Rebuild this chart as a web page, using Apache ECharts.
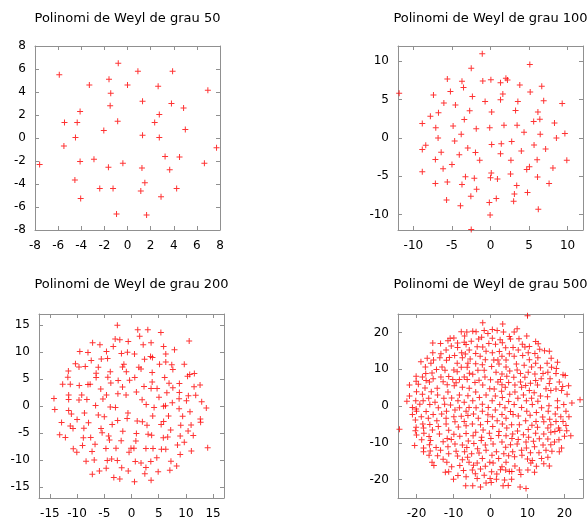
<!DOCTYPE html>
<html>
<head>
<meta charset="utf-8">
<script src="https://cdn.jsdelivr.net/npm/echarts@6/dist/echarts.min.js"></script>
<style>
html,body{margin:0;padding:0;background:#fff;}
#chart{width:588px;height:520px;}
</style>
</head>
<body>
<div id="chart"></div>
<script>
// arrels llegides del gràfic: [part real, part imaginària]
var roots50 = [[-0.8,6.5],[-5.9,5.5],[0.9,5.8],[3.9,5.8],[-1.6,5.1],[-3.3,4.6],[0.0,4.6],[2.65,4.5],[6.95,4.15],[-1.45,3.9],[1.3,3.2],[3.8,3.0],[-1.5,2.8],[4.85,2.6],[-4.1,2.3],[2.75,2.05],[-5.45,1.35],[-4.35,1.35],[-0.85,1.45],[2.35,1.35],[-2.05,0.65],[5.0,0.75],[-4.5,0.05],[1.3,0.25],[2.75,0.05],[-5.5,-0.7],[7.7,-0.85],[-7.6,-2.3],[-4.1,-2.05],[-2.9,-1.85],[-0.4,-2.2],[-1.65,-2.55],[1.25,-2.6],[3.25,-1.6],[4.5,-1.65],[6.65,-2.2],[3.65,-2.75],[-4.55,-3.65],[1.5,-3.9],[-2.4,-4.4],[-1.25,-4.4],[1.15,-4.6],[4.25,-4.4],[-4.05,-5.25],[2.9,-5.1],[-0.95,-6.6],[1.65,-6.7]];

var roots100 = [[-1.07,11.0],[5.1,9.6],[-2.5,9.1],[2.0,7.8],[2.2,7.55],[-5.6,7.7],[-3.7,7.4],[-1.0,7.45],[0.05,7.6],[1.3,7.2],[3.8,6.9],[6.65,6.75],[-3.5,6.6],[-5.2,6.05],[5.15,6.0],[-11.85,5.85],[-7.4,5.6],[1.6,5.75],[-2.35,5.4],[1.3,5.0],[6.9,4.85],[-0.7,4.75],[3.55,4.75],[-6.05,4.55],[-4.55,4.3],[9.3,4.5],[3.25,3.6],[-2.7,3.55],[0.15,3.4],[6.15,3.4],[-6.75,3.3],[-7.8,2.85],[-3.4,2.4],[6.4,2.45],[5.6,2.15],[-8.85,1.9],[8.3,1.95],[1.75,1.65],[3.45,1.65],[-4.85,1.55],[-7.1,1.35],[-1.85,1.2],[-0.1,1.35],[4.35,0.75],[-3.8,0.5],[6.45,0.5],[9.65,0.6],[-6.8,0.0],[8.55,0.0],[-4.65,-0.4],[2.75,-0.45],[0.15,-0.85],[1.4,-0.75],[5.65,-0.9],[-8.4,-0.95],[-8.85,-1.5],[-2.95,-1.3],[7.15,-1.45],[4.0,-1.7],[-6.4,-1.85],[-1.95,-1.9],[-4.05,-2.2],[1.3,-2.05],[-7.15,-2.8],[-1.4,-2.9],[2.65,-2.9],[6.05,-2.85],[9.9,-2.9],[-5.0,-3.45],[-6.15,-4.0],[8.1,-3.9],[5.05,-3.75],[4.7,-4.1],[-8.85,-4.4],[0.1,-4.55],[2.6,-4.7],[-3.25,-5.05],[-2.1,-5.25],[0.0,-5.2],[0.9,-5.35],[6.1,-5.1],[-5.6,-5.75],[-7.15,-5.95],[-3.7,-6.05],[3.4,-6.2],[7.6,-5.95],[-1.8,-6.7],[4.8,-7.1],[3.1,-7.3],[-2.55,-7.6],[0.75,-7.9],[-5.7,-8.1],[3.0,-8.25],[-0.15,-8.4],[-3.9,-8.85],[6.2,-9.3],[-0.05,-10.05],[-2.5,-11.95]];

var roots200 = [[-2.6,14.9],[1.15,14.1],[3.0,14.1],[5.4,13.6],[-3.0,12.4],[-2.15,12.25],[1.5,12.9],[10.6,12.0],[-7.15,11.7],[-5.8,11.3],[-0.6,11.9],[2.15,11.3],[3.6,11.7],[5.9,11.0],[-3.35,11.0],[-9.5,10.05],[-8.0,9.9],[-4.6,10.05],[-1.85,9.7],[-0.75,9.95],[0.55,9.6],[7.9,10.4],[3.5,9.15],[3.85,8.95],[6.3,9.6],[-7.4,8.4],[-5.55,8.7],[-4.4,8.8],[2.4,8.65],[-10.3,7.8],[-9.65,7.2],[-8.5,7.3],[-6.1,7.15],[-1.4,7.7],[-1.65,7.2],[1.35,7.15],[1.75,6.85],[5.15,7.7],[6.3,8.15],[7.4,7.6],[7.6,6.75],[9.7,7.7],[-11.6,6.45],[-6.5,6.05],[-3.9,6.35],[-0.95,6.35],[3.8,6.2],[-6.5,5.25],[-4.35,5.3],[0.6,5.25],[6.1,5.25],[10.3,5.5],[10.7,5.8],[11.55,6.0],[-11.7,5.3],[-2.45,4.7],[-0.35,4.75],[3.8,4.45],[-12.65,4.0],[-11.25,4.0],[-9.6,3.8],[-8.0,3.95],[-7.6,4.0],[-3.8,4.25],[6.9,4.2],[8.8,4.15],[12.6,3.9],[-5.65,3.15],[-1.65,3.5],[2.3,3.6],[3.6,3.25],[4.7,3.25],[7.6,3.35],[11.5,3.55],[-11.55,2.05],[-9.15,2.05],[-4.6,2.05],[-2.5,2.25],[-1.0,2.05],[0.9,2.6],[6.5,2.45],[10.45,1.9],[11.8,2.0],[8.8,2.5],[-14.25,1.4],[-11.55,1.2],[-9.65,1.1],[-8.2,1.2],[-5.25,1.3],[5.05,1.6],[8.75,1.35],[10.1,0.95],[1.95,1.15],[-6.6,0.1],[2.7,0.3],[6.25,0.05],[7.5,0.6],[12.9,0.8],[-3.9,-0.2],[-2.95,-0.3],[4.15,-0.3],[5.9,-0.05],[13.75,-0.35],[-14.1,-0.65],[-11.55,-0.85],[8.75,-0.5],[10.75,-1.05],[-0.65,-1.3],[-6.1,-1.65],[-5.0,-2.0],[-8.65,-1.3],[-11.05,-1.5],[-0.8,-2.3],[3.9,-1.85],[6.8,-1.85],[9.4,-1.9],[-12.85,-3.05],[-11.25,-3.7],[-10.75,-4.15],[-10.0,-2.5],[-7.9,-3.1],[-2.55,-2.7],[1.05,-2.75],[2.0,-2.9],[2.85,-3.55],[-3.55,-3.4],[5.45,-3.4],[5.9,-2.85],[9.05,-3.55],[10.95,-3.5],[12.7,-3.0],[12.65,-2.4],[-5.6,-4.15],[-8.75,-4.1],[-5.4,-4.95],[-1.6,-4.65],[-13.2,-5.3],[-12.15,-5.8],[-8.85,-5.85],[-7.5,-5.8],[-4.2,-5.55],[-4.05,-6.3],[0.9,-5.1],[3.05,-5.2],[3.7,-5.4],[5.85,-5.85],[6.65,-5.75],[7.2,-4.45],[8.95,-5.55],[10.4,-4.6],[11.35,-5.45],[-1.9,-6.4],[0.8,-6.45],[9.7,-6.7],[-6.7,-7.05],[-9.0,-7.3],[-10.7,-7.9],[-10.05,-8.55],[-7.25,-8.4],[-4.7,-7.85],[-2.85,-7.8],[-0.1,-7.8],[0.45,-7.8],[-0.45,-8.55],[2.65,-7.85],[3.95,-7.85],[5.5,-8.0],[6.3,-8.0],[8.45,-7.2],[11.0,-8.3],[14.0,-7.7],[8.95,-8.95],[-8.35,-10.2],[-6.85,-10.0],[-4.45,-10.05],[-3.65,-9.8],[-2.6,-10.05],[0.7,-10.25],[1.75,-10.55],[3.55,-10.25],[4.65,-9.55],[7.25,-10.2],[8.3,-11.1],[2.65,-11.35],[-1.8,-11.4],[-4.65,-11.5],[-5.9,-12.0],[-0.6,-12.0],[4.9,-12.15],[7.05,-11.85],[-7.2,-12.6],[2.45,-12.5],[-3.25,-13.2],[-2.15,-13.5],[3.6,-13.7],[0.55,-14.0]];

var roots500 = [[10.0,24.5],[-2.1,22.6],[3.3,22.3],[7.2,21.0],[0.5,20.8],[-1.7,20.5],[1.8,20.5],[-7.9,20.2],[-6.4,20.1],[-4.8,20.3],[-3.9,20.2],[3.5,20.1],[6.4,20.1],[-0.7,19.7],
[-7.0,19.0],[9.8,19.0],[5.1,18.9],[-10.9,18.4],[-9.9,18.5],[-2.4,18.7],[-3.2,18.2],[0.5,18.4],[7.7,18.3],[2.6,18.0],[5.4,18.2],
[-11.5,17.7],[-5.2,17.6],[-15.6,17.1],[-13.5,17.0],[12.2,17.5],[-8.9,17.1],[-7.1,17.3],[-6.6,16.7],[-0.45,17.0],[3.2,17.2],[1.35,16.8],[8.6,16.8],[12.9,16.9],[9.3,16.0],[10.5,16.2],
[-10.6,16.3],[-8.9,15.9],[-3.6,16.1],[-2.1,16.0],[4.1,15.8],[6.1,15.9],[13.3,15.4],[-12.0,15.2],[-5.75,15.2],[-1.2,14.9],[2.4,14.8],[7.5,15.2],[14.6,15.0],[15.9,14.9],
[-15.6,14.5],[-13.4,14.2],[-7.8,14.5],[-6.8,14.1],[-4.0,14.3],[0.5,14.5],[5.1,14.2],[10.2,14.5],[12.0,14.3],[-9.7,13.7],[-2.8,13.5],[3.1,13.5],[6.4,13.5],[8.7,13.7],
[-17.1,13.0],[-13.7,13.1],[-11.1,13.2],[-7.6,13.1],[-5.5,12.8],[-1.4,12.6],[0.9,12.5],[2.0,12.5],[4.2,12.5],[10.5,12.6],[12.8,13.1],[16.4,13.0],[-15.4,12.5],[-18.8,12.0],[-11.9,12.4],[18.1,11.9],
[-16.1,11.6],[-9.0,11.6],[-6.1,11.6],[-4.0,11.5],[-2.2,11.2],[2.3,11.4],[7.0,11.4],[9.1,11.1],[12.2,11.6],[15.3,11.6],[-17.6,10.6],[-13.1,10.6],[-7.9,10.5],[-6.3,10.5],[0.3,10.7],[4.2,10.6],[11.1,10.6],[13.5,10.4],[16.5,10.5],[17.8,10.2],
[-14.6,9.9],[-12.3,9.7],[-9.9,9.8],[-3.4,9.7],[-1.7,9.7],[1.5,9.2],[5.2,9.5],[7.2,9.8],[10.2,9.2],[15.5,9.2],[-9.0,9.3],[-17.5,8.8],[-15.8,9.0],[-5.7,8.9],[-4.8,8.6],[3.1,8.7],[8.1,8.8],[12.0,8.7],[14.2,8.8],[17.7,8.8],[19.6,8.5],
[-20.1,8.1],[-18.4,7.9],[-13.4,7.9],[-11.3,8.0],[-7.1,7.9],[-1.5,7.9],[4.4,8.1],[6.3,7.8],[9.3,7.8],[20.2,8.3],[-15.5,7.4],[-10.2,7.2],[-8.4,7.2],[-6.3,7.2],[-3.1,7.0],[0.0,7.1],[2.7,7.2],[13.7,7.4],[16.1,7.4],[12.2,6.9],[-17.4,6.9],
[-20.1,6.7],[-16.5,6.5],[-12.8,6.6],[-9.3,6.3],[-4.2,6.4],[2.0,6.5],[4.9,6.4],[8.1,6.5],[10.8,6.2],[18.6,6.5],[-21.9,5.7],[-19.5,5.9],[-11.7,5.8],[-9.8,5.5],[-2.1,5.7],[3.1,5.8],[6.6,5.7],[9.5,5.6],[12.7,5.7],[15.9,6.1],[21.1,5.5],[19.5,5.3],
[-17.7,4.9],[-14.4,4.8],[-7.6,5.1],[-5.75,4.8],[-0.2,4.7],[1.0,4.6],[4.0,5.1],[8.4,5.1],[15.0,4.7],[17.7,4.6],[-20.0,3.9],[-16.0,3.9],[-11.5,3.8],[-4.0,3.8],[3.0,4.0],[6.6,3.8],[10.5,4.2],[11.8,3.6],[16.3,4.2],[19.2,4.2],
[-21.9,2.7],[-18.4,3.2],[-14.3,3.0],[-8.4,3.0],[-6.1,2.8],[-1.2,3.0],[1.3,2.7],[5.2,3.2],[8.9,3.0],[13.5,2.7],[15.4,2.5],[20.7,3.2],[-16.7,2.1],[-12.6,2.1],[-10.5,2.2],[-3.0,2.3],[3.2,2.3],[7.4,2.1],[11.1,2.1],
[-22.6,1.3],[-20.2,1.4],[-18.2,1.4],[-15.0,1.0],[-8.8,1.4],[-7.1,1.0],[-4.8,1.4],[0.45,1.4],[4.9,1.2],[9.7,1.4],[12.8,1.3],[18.1,1.4],[24.2,1.7],[22.0,0.8],
[-19.1,0.5],[-16.4,0.4],[-12.4,0.5],[-10.8,0.3],[-2.2,0.5],[2.5,0.4],[6.4,0.4],[11.3,0.4],[15.8,0.1],[19.8,0.4],[-21.1,-0.4],[-14.1,-0.5],[-8.4,-0.5],[-5.8,-0.4],[-3.9,-0.5],[-0.6,-0.4],[3.9,-0.5],[8.4,-0.4],[13.8,-0.5],[18.1,-0.5],
[-20.1,-0.8],[-20.0,-1.4],[-17.4,-1.5],[-11.9,-1.4],[-9.6,-1.1],[-6.6,-1.4],[-2.2,-1.4],[1.3,-1.1],[5.4,-1.5],[9.8,-1.4],[12.4,-1.8],[15.6,-1.4],[20.4,-1.4],[-21.1,-2.3],[-15.5,-2.3],[-13.2,-2.2],[-4.6,-2.2],[-0.7,-2.4],[3.1,-2.3],[6.1,-2.3],[17.5,-2.2],
[-18.7,-2.9],[-9.9,-2.9],[-7.9,-2.8],[-6.1,-2.6],[0.5,-2.9],[7.5,-2.7],[10.7,-2.5],[14.1,-3.0],[19.0,-2.9],[21.2,-2.9],[-16.8,-3.3],[-12.0,-3.3],[-3.3,-3.3],[4.2,-3.3],[16.0,-3.6],[-20.3,-3.8],
[-14.5,-4.0],[-9.6,-4.3],[-7.1,-4.2],[-0.8,-4.2],[1.8,-4.0],[9.5,-4.0],[12.3,-4.2],[14.4,-4.3],[17.7,-4.2],[19.6,-4.2],[-18.3,-4.9],[-16.4,-5.0],[-12.0,-4.9],[-4.9,-4.9],[-2.7,-5.1],[3.2,-4.9],[5.7,-5.1],[7.8,-5.1],[11.2,-5.2],[16.3,-5.1],[20.4,-5.3],[-24.6,-6.3],
[-20.1,-5.8],[-18.1,-6.0],[-14.1,-5.6],[-8.7,-5.7],[-6.6,-5.4],[0.6,-5.6],[4.4,-6.0],[12.7,-5.8],[15.5,-6.0],[18.4,-6.0],[-20.3,-6.7],[-15.7,-6.5],[-11.3,-6.6],[-4.0,-7.1],[-2.0,-6.5],[2.3,-6.9],[10.2,-6.4],[17.4,-6.9],[20.6,-6.7],[18.7,-6.6],[7.3,-6.8],
[-18.0,-7.4],[-13.8,-7.6],[-9.9,-7.7],[-6.6,-7.5],[-0.3,-7.4],[6.0,-7.6],[8.9,-7.8],[12.2,-7.4],[14.4,-7.6],[16.3,-7.1],[-20.0,-7.9],[-16.6,-8.3],[-8.3,-8.2],[-4.7,-8.1],[-2.4,-8.5],[2.2,-8.0],[4.2,-8.1],[10.3,-8.5],[20.0,-8.2],[21.7,-8.1],
[-18.6,-9.2],[-11.7,-8.8],[-10.6,-9.1],[0.1,-8.8],[5.8,-8.8],[7.5,-9.1],[13.2,-8.9],[15.5,-9.0],[18.5,-9.2],[-16.2,-9.4],[-12.8,-9.7],[-6.0,-9.5],[-2.5,-9.4],[3.1,-9.8],[9.6,-9.8],[11.6,-9.6],[17.3,-9.8],[-20.5,-10.7],
[-16.5,-10.5],[-9.6,-10.3],[-7.6,-10.6],[-4.5,-10.2],[-1.4,-10.6],[0.7,-10.3],[5.4,-10.5],[7.2,-10.3],[14.2,-10.6],[16.3,-10.5],[-18.1,-11.4],[-14.7,-11.3],[-11.5,-11.1],[-6.4,-11.3],[-3.5,-11.6],[4.1,-11.2],[9.7,-11.4],[11.9,-11.1],[19.2,-11.4],
[-18.1,-12.4],[-16.3,-12.2],[-13.5,-12.0],[-9.3,-12.3],[-7.0,-12.4],[-1.2,-12.0],[1.6,-12.4],[6.0,-12.4],[8.4,-12.0],[15.0,-12.0],[16.6,-12.3],[18.6,-12.4],[-11.3,-13.0],[-5.1,-13.0],[-3.1,-12.8],[3.6,-13.0],[10.8,-12.7],[13.1,-12.7],[-16.6,-13.4],
[-14.3,-13.5],[-8.9,-13.6],[-6.2,-13.9],[0.4,-13.4],[4.9,-13.5],[6.5,-13.8],[8.5,-13.4],[15.5,-13.9],[-12.8,-14.5],[-7.6,-14.6],[-2.2,-14.3],[2.2,-14.3],[13.8,-14.3],[-15.8,-15.3],[11.3,-14.8],
[-11.8,-15.3],[-5.8,-15.3],[-3.6,-15.5],[-0.2,-15.3],[0.7,-15.5],[4.2,-15.3],[10.0,-14.4],[10.9,-15.5],[14.4,-15.7],[-15.3,-16.2],[-10.5,-16.5],[-8.3,-16.2],[-4.6,-16.1],[-1.4,-16.4],[3.1,-16.5],[6.6,-16.3],[15.9,-16.3],[12.4,-16.4],
[-12.2,-18.0],[-11.3,-17.9],[-7.3,-17.5],[-4.9,-17.4],[-2.7,-17.1],[0.3,-17.9],[2.7,-17.3],[4.1,-17.4],[5.1,-17.8],[7.8,-17.4],[10.1,-17.4],[5.75,-17.8],[11.9,-18.0],[-4.1,-18.4],[-1.7,-18.8],[8.2,-18.6],[1.7,-18.5],[-8.8,-18.9],
[-10.0,-19.9],[-6.6,-19.2],[-3.6,-19.7],[-0.1,-19.7],[1.6,-19.9],[3.8,-20.1],[5.7,-19.9],[-1.2,-20.9],[-6.7,-21.7],[-4.8,-21.7],[-2.7,-22.0],[0.2,-20.8],[3.4,-21.7],[4.8,-21.6],[8.0,-22.0],[9.6,-22.4]];

var titles = ['Polinomi de Weyl de grau 50','Polinomi de Weyl de grau 100','Polinomi de Weyl de grau 200','Polinomi de Weyl de grau 500'];
var ticks50 = [-8,-6,-4,-2,0,2,4,6,8];
var ticks100 = [-10,-5,0,5,10];
var ticks200 = [-15,-10,-5,0,5,10,15];
var ticks500 = [-20,-10,0,10,20];
var ranges = [8, 12, 17, 25];

var chart = echarts.init(document.getElementById('chart'));
var font = 'DejaVu Sans';
var frameColor = '#909090';
var plus = 'path://M-0.5,-3H0.5V-0.5H3V0.5H0.5V3H-0.5V0.5H-3V-0.5H-0.5Z';

var grids = [
	{left:35, top:46, width:185, height:184},
	{left:398, top:46, width:185, height:184},
	{left:39, top:314, width:185, height:185},
	{left:398, top:314, width:185, height:185}
];
var tickSets = [ticks50, ticks100, ticks200, ticks500];
var dataSets = [roots50, roots100, roots200, roots500];

function makeAxis(i, pos, isX){
	var show = (pos == 'bottom' || pos == 'left');
	return {
		type:'value',
		gridIndex:i,
		position:pos,
		min:-ranges[i],
		max:ranges[i],
		axisLine:{show:true, onZero:false, lineStyle:{color:frameColor, width:1}},
		axisTick:{show:true, inside:true, length:4, customValues:tickSets[i], lineStyle:{color:frameColor}},
		axisLabel:{show:show, customValues:tickSets[i], color:'#000', fontSize:12, fontFamily:font, margin: isX ? 10 : 9},
		splitLine:{show:false}
	};
}

var xAxes = [], yAxes = [], series = [], titleList = [];
for(var i=0;i<4;i++){
	xAxes.push(makeAxis(i,'bottom',true));
	xAxes.push(makeAxis(i,'top',true));
	yAxes.push(makeAxis(i,'left',false));
	yAxes.push(makeAxis(i,'right',false));
	series.push({
		type:'scatter',
		xAxisIndex:i*2,
		yAxisIndex:i*2,
		symbol:plus,
		symbolSize:6,
		itemStyle:{color:'#ff0000'},
		data:dataSets[i],
		silent:true,
		animation:false
	});
	titleList.push({
		text:titles[i],
		left:grids[i].left + grids[i].width/2,
		top: i < 2 ? 12 : 278,
		textAlign:'center',
		padding:0,
		textStyle:{color:'#000', fontSize:13, fontWeight:'normal', fontFamily:font}
	});
}

chart.setOption({
	backgroundColor:'#fff',
	animation:false,
	title:titleList,
	grid:grids,
	xAxis:xAxes,
	yAxis:yAxes,
	series:series
});
</script>
</body>
</html>
